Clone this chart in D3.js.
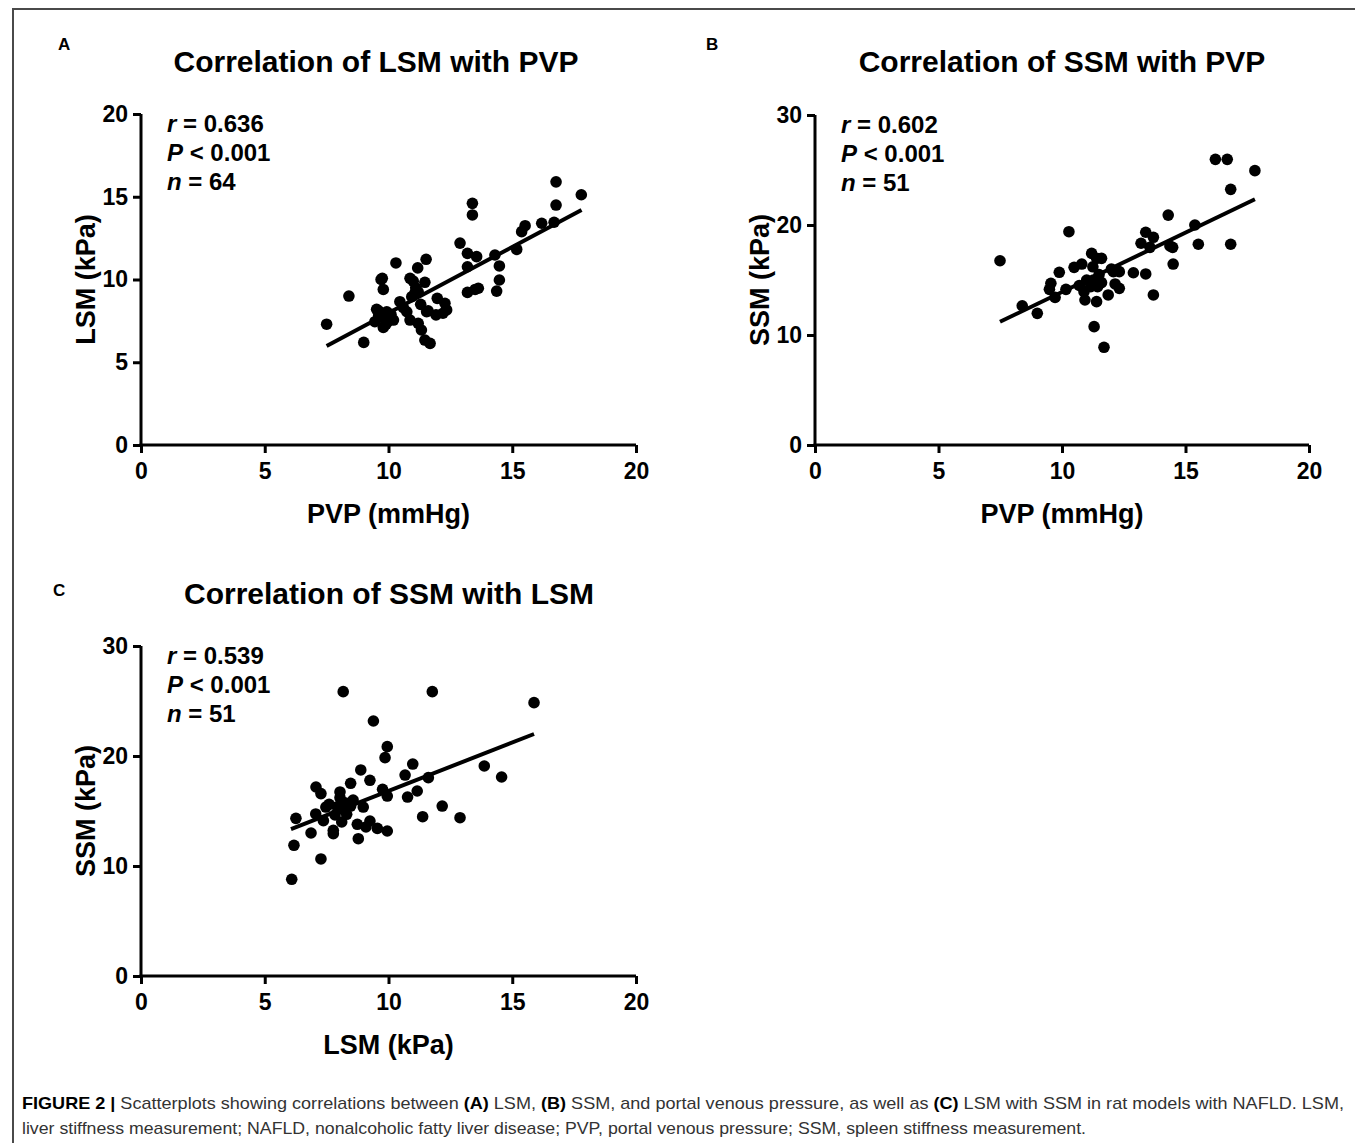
<!DOCTYPE html>
<html>
<head>
<meta charset="utf-8">
<script src="https://cdn.jsdelivr.net/npm/d3@7"></script>
<style>
  body { margin: 0; background: #fff; }
  svg { display: block; font-family: "Liberation Sans", Arial, sans-serif; }
</style>
</head>
<body>
<svg id="chart" width="1355" height="1143"></svg>
<script>
// Panel A: PVP (mmHg) vs LSM (kPa)
const pvpA = [7.5, 8.4, 9.0, 9.45, 9.52, 9.6, 9.66, 9.7, 9.75, 9.79, 9.79, 9.93, 9.9, 10.2, 10.3, 10.46,
  10.74, 10.87, 10.87, 10.94, 11.0, 11.07, 11.18, 11.2, 11.2, 11.33, 11.47, 11.47, 11.52, 11.6, 11.68, 11.54,
  11.92, 11.97, 12.28, 12.35, 12.2, 12.89, 13.19, 13.19, 13.19, 13.39, 13.39, 13.56, 13.63, 14.3, 14.48, 14.48,
  14.37, 15.18, 15.38, 15.52, 16.19, 16.69, 16.77, 16.77, 17.79, 10.0, 10.6, 11.1, 9.6, 13.5, 11.3, 10.1];
const lsmA = [7.3, 9.0, 6.2, 7.45, 8.2, 7.8, 7.72, 10.0, 10.07, 9.4, 7.1, 8.05, 7.3, 7.55, 11.0, 8.66,
  8.05, 10.07, 7.55, 8.96, 9.9, 9.2, 10.7, 9.26, 7.35, 6.95, 9.83, 6.34, 11.22, 8.11, 6.14, 8.05,
  7.86, 8.86, 8.56, 8.16, 7.96, 12.2, 11.58, 10.77, 9.22, 14.6, 13.9, 11.38, 9.47, 11.48, 10.82, 9.97,
  9.3, 11.82, 12.89, 13.25, 13.4, 13.46, 15.9, 14.5, 15.12, 7.5, 8.3, 9.5, 8.1, 9.4, 8.5, 7.9];
const fitA = [[7.5, 5.98], [17.8, 14.2]];

// Panel B: PVP (mmHg) vs SSM (kPa)
const pvpB = [16.21, 16.69, 17.81, 16.83, 16.83, 15.52, 15.38, 14.3, 14.48, 14.5, 14.37, 13.39, 13.7, 13.2,
  13.56, 12.89, 13.39, 13.7, 10.28, 7.49, 8.39, 9.0, 9.89, 9.55, 9.49, 9.72, 10.16, 10.49, 10.8, 11.2, 11.4,
  11.6, 11.27, 11.6, 10.89, 10.93, 11.4, 11.16, 11.87, 12.08, 12.32, 12.15, 12.32, 11.3, 11.7, 11.44, 11.0,
  11.5, 10.7, 12.0, 11.25];
const ssmB = [25.97, 25.97, 24.94, 23.24, 18.25, 18.25, 20.0, 20.9, 17.97, 16.45, 18.09, 19.34, 18.88, 18.34,
  17.97, 15.66, 15.55, 13.64, 19.39, 16.75, 12.66, 11.97, 15.7, 14.7, 14.15, 13.42, 14.15, 16.15, 16.45, 17.42,
  16.97, 16.97, 15.0, 14.76, 13.94, 13.18, 13.03, 14.39, 13.64, 15.76, 15.76, 14.64, 14.24, 10.76, 8.88, 14.39,
  15.0, 15.5, 14.5, 16.0, 16.2];
const fitB = [[7.49, 11.2], [17.81, 22.34]];

// Panel C: LSM (kPa) vs SSM (kPa)
const lsmC = [8.17, 11.77, 15.88, 9.39, 9.95, 9.86, 10.98, 10.67, 8.88, 9.25, 8.47, 13.87, 14.57, 11.61, 11.16,
  10.77, 9.95, 9.76, 12.17, 12.89, 11.38, 8.04, 8.04, 7.27, 7.07, 7.47, 6.26, 7.06, 7.37, 7.84, 7.93, 8.11,
  7.77, 7.77, 6.87, 6.18, 7.27, 6.09, 8.47, 8.57, 8.98, 8.74, 8.78, 9.09, 9.25, 9.55, 9.95, 8.31, 8.24, 8.0, 7.6];
const ssmC = [25.85, 25.85, 24.85, 23.18, 20.85, 19.85, 19.27, 18.27, 18.73, 17.79, 17.52, 19.09, 18.09, 18.03,
  16.82, 16.27, 16.36, 16.97, 15.45, 14.39, 14.48, 16.73, 16.21, 16.58, 17.18, 15.36, 14.33, 14.73, 14.12,
  14.64, 15.39, 14.0, 13.24, 12.94, 13.0, 11.88, 10.64, 8.79, 15.45, 16.0, 15.36, 13.79, 12.48, 13.55, 14.09,
  13.42, 13.18, 14.7, 15.75, 15.2, 15.6];
const fitC = [[6.06, 13.36], [15.88, 22.0]];

const xTicks = [0, 5, 10, 15, 20];
const yTicksA = [0, 5, 10, 15, 20];
const yTicks30 = [0, 10, 20, 30];

const svg = d3.select('#chart');

// figure frame
svg.append('path')
    .attr('d', 'M1355,9 H13 V1143')
    .attr('fill', 'none')
    .attr('stroke', '#4a4a4a')
    .attr('stroke-width', 2);

const panels = [
    {letter: 'A', lx: 58, ly: 50, title: 'Correlation of LSM with PVP', tx: 376, ty: 72,
        x0: 141, x1: 636, y0: 445, y1: 114, yMax: 20, yTicks: yTicksA,
        xs: pvpA, ys: lsmA, fit: fitA, xLabel: 'PVP (mmHg)', yLabel: 'LSM (kPa)',
        stats: ['0.636', '64']},
    {letter: 'B', lx: 706, ly: 50, title: 'Correlation of SSM with PVP', tx: 1062, ty: 72,
        x0: 815, x1: 1309, y0: 445, y1: 115, yMax: 30, yTicks: yTicks30,
        xs: pvpB, ys: ssmB, fit: fitB, xLabel: 'PVP (mmHg)', yLabel: 'SSM (kPa)',
        stats: ['0.602', '51']},
    {letter: 'C', lx: 53, ly: 596, title: 'Correlation of SSM with LSM', tx: 389, ty: 604,
        x0: 141, x1: 636, y0: 976, y1: 646, yMax: 30, yTicks: yTicks30,
        xs: lsmC, ys: ssmC, fit: fitC, xLabel: 'LSM (kPa)', yLabel: 'SSM (kPa)',
        stats: ['0.539', '51']}
];

panels.forEach(drawPanel);

function drawPanel(p) {
    const x = d3.scaleLinear().domain([0, 20]).range([p.x0, p.x1]);
    const y = d3.scaleLinear().domain([0, p.yMax]).range([p.y0, p.y1]);
    const g = svg.append('g');

    g.append('text')
        .attr('x', p.lx).attr('y', p.ly)
        .attr('font-size', 17).attr('font-weight', 'bold')
        .text(p.letter);

    g.append('text')
        .attr('x', p.tx).attr('y', p.ty)
        .attr('text-anchor', 'middle')
        .attr('font-size', 30).attr('font-weight', 'bold')
        .text(p.title);

    const xAxis = g.append('g')
        .attr('transform', `translate(0,${p.y0})`)
        .call(d3.axisBottom(x).tickValues(xTicks).tickSize(8).tickPadding(10).tickSizeOuter(0));
    const yAxis = g.append('g')
        .attr('transform', `translate(${p.x0},0)`)
        .call(d3.axisLeft(y).tickValues(p.yTicks).tickSize(8).tickPadding(5).tickSizeOuter(0));

    [xAxis, yAxis].forEach(function (a) {
        a.select('.domain').attr('stroke', '#000').attr('stroke-width', 3);
        a.selectAll('.tick line').attr('stroke', '#000').attr('stroke-width', 3);
        a.selectAll('.tick text')
            .attr('fill', '#000')
            .attr('font-size', 23)
            .attr('font-weight', 'bold')
            .attr('font-family', '"Liberation Sans", Arial, sans-serif');
    });
    // domain should extend to cover the corner
    xAxis.select('.domain').attr('d', `M${p.x0 - 1.5},0H${p.x1}`);
    yAxis.select('.domain').attr('d', `M0,${p.y0 + 1.5}V${p.y1}`);

    g.append('text')
        .attr('x', (p.x0 + p.x1) / 2).attr('y', p.y0 + 78)
        .attr('text-anchor', 'middle')
        .attr('font-size', 27).attr('font-weight', 'bold')
        .text(p.xLabel);

    g.append('text')
        .attr('transform', `translate(${p.x0 - 46},${(p.y0 + p.y1) / 2}) rotate(-90)`)
        .attr('text-anchor', 'middle')
        .attr('font-size', 27).attr('font-weight', 'bold')
        .text(p.yLabel);

    const pts = p.xs.map((v, i) => [v, p.ys[i]]);
    g.append('g')
        .selectAll('circle')
        .data(pts)
        .enter().append('circle')
        .attr('cx', d => x(d[0]))
        .attr('cy', d => y(d[1]))
        .attr('r', 5.8)
        .attr('fill', '#000');

    g.append('line')
        .attr('x1', x(p.fit[0][0])).attr('y1', y(p.fit[0][1]))
        .attr('x2', x(p.fit[1][0])).attr('y2', y(p.fit[1][1]))
        .attr('stroke', '#000').attr('stroke-width', 4);

    const st = g.append('text')
        .attr('font-size', 24).attr('font-weight', 'bold');
    const sx = p.x0 + 26;
    const sy = p.y1 + 18;
    const l1 = st.append('tspan').attr('x', sx).attr('y', sy);
    l1.append('tspan').attr('font-style', 'italic').text('r');
    l1.append('tspan').text(' = ' + p.stats[0]);
    const l2 = st.append('tspan').attr('x', sx).attr('y', sy + 29);
    l2.append('tspan').attr('font-style', 'italic').text('P');
    l2.append('tspan').text(' < 0.001');
    const l3 = st.append('tspan').attr('x', sx).attr('y', sy + 58);
    l3.append('tspan').attr('font-style', 'italic').text('n');
    l3.append('tspan').text(' = ' + p.stats[1]);
}

// caption
const cap = svg.append('g').attr('font-size', 17).attr('fill', '#333');
const c1 = cap.append('text').attr('x', 22).attr('y', 1109)
    .attr('textLength', 1322).attr('lengthAdjust', 'spacingAndGlyphs');
c1.append('tspan').attr('font-weight', 'bold').attr('fill', '#000').text('FIGURE 2 | ');
c1.append('tspan').text('Scatterplots showing correlations between ');
c1.append('tspan').attr('font-weight', 'bold').attr('fill', '#000').text('(A)');
c1.append('tspan').text(' LSM, ');
c1.append('tspan').attr('font-weight', 'bold').attr('fill', '#000').text('(B)');
c1.append('tspan').text(' SSM, and portal venous pressure, as well as ');
c1.append('tspan').attr('font-weight', 'bold').attr('fill', '#000').text('(C)');
c1.append('tspan').text(' LSM with SSM in rat models with NAFLD. LSM,');
cap.append('text').attr('x', 22).attr('y', 1134)
    .attr('textLength', 1064).attr('lengthAdjust', 'spacingAndGlyphs')
    .text('liver stiffness measurement; NAFLD, nonalcoholic fatty liver disease; PVP, portal venous pressure; SSM, spleen stiffness measurement.');
</script>
</body>
</html>
